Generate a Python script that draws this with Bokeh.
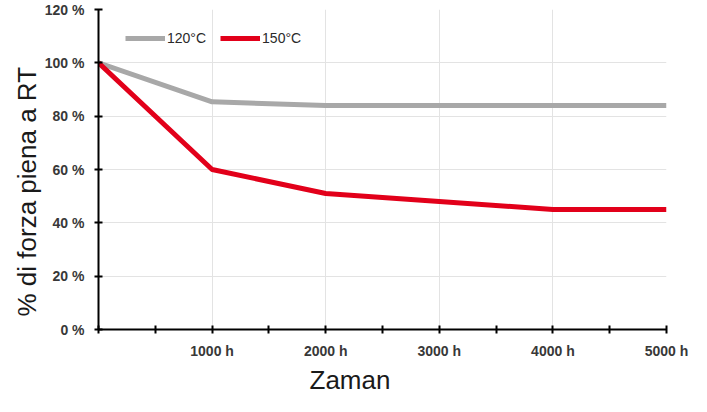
from bokeh.plotting import figure
from bokeh.models import Range1d, FixedTicker, Legend, LegendItem, Title
from bokeh.embed import file_html
from bokeh.resources import INLINE

hours = [0, 1000, 2000, 3000, 4000, 5000]
s120 = [100, 85.4, 84, 84, 84, 84]
s150 = [100, 60, 51, 48, 45, 45]
series_names = ["120°C", "150°C"]
x_ticks = [0, 1000, 2000, 3000, 4000, 5000]
x_minor = [500, 1500, 2500, 3500, 4500]
x_labels = ["", "1000 h", "2000 h", "3000 h", "4000 h", "5000 h"]
y_ticks = [0, 20, 40, 60, 80, 100, 120]
y_labels = ["0 %", "20 %", "40 %", "60 %", "80 %", "100 %", "120 %"]
x_title = "Zaman"
y_title = "% di forza piena a RT"

FONT = "Liberation Sans"

p = figure(width=691, height=396, output_backend="svg", toolbar_location=None,
           x_range=Range1d(0, 5000), y_range=Range1d(0, 120),
           min_border_left=98, min_border_right=25, min_border_top=9, min_border_bottom=67)
p.outline_line_color = None

r1 = p.line(hours, s120, line_color="#a8a8a8", line_width=5)
r2 = p.line(hours, s150, line_color="#e2001a", line_width=5)

p.xaxis.ticker = FixedTicker(ticks=x_ticks, minor_ticks=x_minor)
p.yaxis.ticker = FixedTicker(ticks=y_ticks)
p.xaxis.major_label_overrides = {t: l for t, l in zip(x_ticks, x_labels)}
p.yaxis.major_label_overrides = {t: l for t, l in zip(y_ticks, y_labels)}

for ax in (p.xaxis, p.yaxis):
    ax.axis_line_color = "black"
    ax.axis_line_width = 2
    ax.major_tick_line_color = "black"
    ax.major_tick_line_width = 2
    ax.major_tick_in = 4
    ax.major_tick_out = 4
    ax.minor_tick_line_color = "black"
    ax.minor_tick_line_width = 2
    ax.minor_tick_in = 4
    ax.minor_tick_out = 4
    ax.major_label_text_font = FONT
    ax.major_label_text_font_size = "14px"
    ax.major_label_text_font_style = "bold"
    ax.major_label_text_color = "#383838"

p.yaxis.minor_tick_line_color = None
p.xaxis.major_label_standoff = 9
p.yaxis.major_label_standoff = 10

p.xgrid.ticker = FixedTicker(ticks=x_ticks)
p.ygrid.ticker = FixedTicker(ticks=y_ticks)
p.xgrid.grid_line_color = "#e3e3e3"
p.ygrid.grid_line_color = "#e3e3e3"

p.add_layout(Title(text=x_title, align="left", offset=211, standoff=2,
                   text_font=FONT, text_font_size="26px", text_font_style="normal",
                   text_color="#1a1a1a"), "below")
p.add_layout(Title(text=y_title, align="left", offset=13, standoff=0,
                   text_font=FONT, text_font_size="26px", text_font_style="normal",
                   text_color="#1a1a1a"), "left")

legend = Legend(items=[LegendItem(label=series_names[0], renderers=[r1]),
                       LegendItem(label=series_names[1], renderers=[r2])],
                orientation="horizontal", location=(27, 283),
                glyph_width=40, glyph_height=16, label_standoff=2, spacing=14,
                padding=0, margin=0, border_line_color=None, background_fill_alpha=0,
                label_text_font=FONT, label_text_font_size="14px", label_text_color="#2a2a2a")
p.add_layout(legend, "center")

open("out.html", "w").write(file_html(p, INLINE))
